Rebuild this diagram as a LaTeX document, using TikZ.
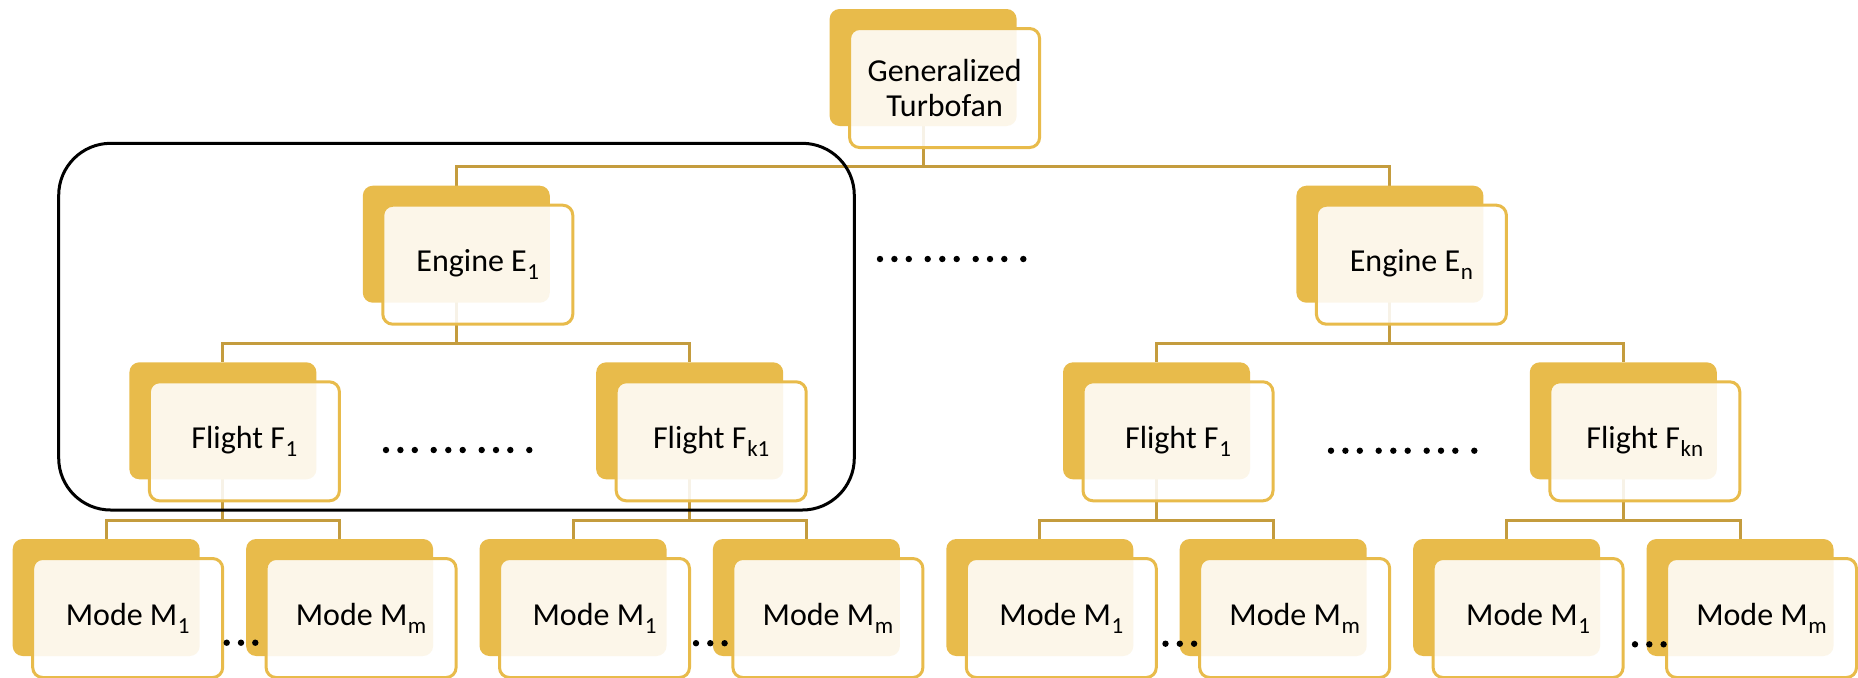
\documentclass[tikz,border=0pt]{standalone}
\usepackage{fontspec}
\setmainfont{Carlito}
\usetikzlibrary{backgrounds}
\definecolor{goldfill}{HTML}{E8BB4B}
\definecolor{goldline}{HTML}{E8BB4B}
\definecolor{conncol}{HTML}{C49C3E}
\newcommand\lowsub[1]{\kern0.3pt\raisebox{-4pt}{\fontsize{11.5pt}{11.5pt}\selectfont #1}}
\begin{document}
\begin{tikzpicture}[x=0.5pt,y=-0.5pt,
  backbox/.style={rectangle, rounded corners=5pt, fill=goldfill, minimum width=93.5pt, minimum height=58.5pt, inner sep=0pt, outer sep=0pt},
  frontbox/.style={rectangle, rounded corners=5pt, draw=goldline, line width=1.5pt, fill=white, fill opacity=0.88, text opacity=1, minimum width=95pt, minimum height=59.5pt, inner sep=0pt, font=\fontsize{16pt}{17.5pt}\selectfont, align=center},
  conn/.style={draw=conncol, line width=1.5pt},
  dotmark/.style={circle, fill=black, inner sep=0pt, minimum size=3.2pt},
  frame/.style={draw=black, line width=1.5pt, rounded corners=26pt}
]
\useasboundingbox (0,0) rectangle (1858,677);
\clip (0,0) rectangle (1858,677);

% top
\node[backbox] (tb) at (923.1,67.5) {};
\node[frontbox] (t) at ([xshift=10.75pt,yshift=-10.25pt]tb.center) {Generalized\\Turbofan};
% engines
\node[backbox] (e1b) at (456.3,244.2) {};
\node[frontbox] (e1) at ([xshift=10.75pt,yshift=-10.25pt]e1b.center) {Engine E\lowsub{1}};
\node[backbox] (e2b) at (1389.9,244.2) {};
\node[frontbox] (e2) at ([xshift=10.75pt,yshift=-10.25pt]e2b.center) {Engine E\lowsub{n}};
% flights
\node[backbox] (f1b) at (222.9,420.8) {};
\node[frontbox] (f1) at ([xshift=10.75pt,yshift=-10.25pt]f1b.center) {Flight F\lowsub{1}};
\node[backbox] (f2b) at (689.7,420.8) {};
\node[frontbox] (f2) at ([xshift=10.75pt,yshift=-10.25pt]f2b.center) {Flight F\lowsub{k1}};
\node[backbox] (f3b) at (1156.5,420.8) {};
\node[frontbox] (f3) at ([xshift=10.75pt,yshift=-10.25pt]f3b.center) {Flight F\lowsub{1}};
\node[backbox] (f4b) at (1623.3,420.8) {};
\node[frontbox] (f4) at ([xshift=10.75pt,yshift=-10.25pt]f4b.center) {Flight F\lowsub{kn}};
% modes
\foreach \i/\x/\s in {1/106.2/1,2/339.6/m,3/573.0/1,4/806.4/m,5/1039.8/1,6/1273.2/m,7/1506.6/1,8/1740.0/m}{
  \node[backbox] (m\i b) at (\x,597.5) {};
  \node[frontbox] (m\i) at ([xshift=10.75pt,yshift=-10.25pt]m\i b.center) {Mode M\lowsub{\s}};
}

% connectors
\begin{pgfonlayer}{background}
\foreach \p/\c in {t/e1,t/e2,e1/f1,e1/f2,e2/f3,e2/f4,f1/m1,f1/m2,f2/m3,f2/m4,f3/m5,f3/m6,f4/m7,f4/m8}
  \draw[conn] (\p b.center) |- ([yshift=9.5pt]\c b.north) -- (\c b.north);
\end{pgfonlayer}

% group frame
\draw[frame] (58.7,143.3) rectangle (854.3,510);

% dots
\coordinate (dE) at (880,259);
\coordinate (dF1) at (386,450);
\coordinate (dF2) at (1331,450.7);
\foreach \c in {dE,dF1,dF2}
  \foreach \o in {0,14.4,28.8,47.7,62.3,76.7,95.7,110,124.3,143.3}
    \node[dotmark] at ([xshift=\o*0.5pt]\c) {};
\coordinate (dM1) at (226.7,642.7);
\coordinate (dM2) at (696.0,643.2);
\coordinate (dM3) at (1165.5,643.7);
\coordinate (dM4) at (1635.0,644.3);
\foreach \c in {dM1,dM2,dM3,dM4}
  \foreach \o in {0,14.3,28.6}
    \node[dotmark] at ([xshift=\o*0.5pt]\c) {};
\end{tikzpicture}
\end{document}
